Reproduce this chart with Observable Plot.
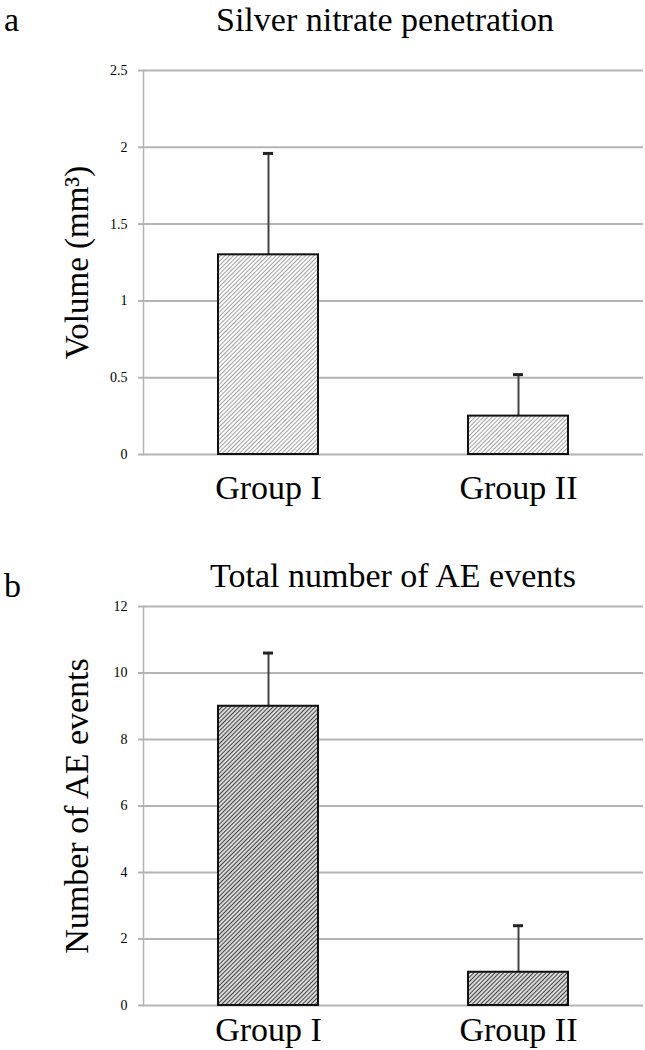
<!DOCTYPE html>
<html><head><meta charset="utf-8">
<script src="https://cdn.jsdelivr.net/npm/d3@7"></script>
<script src="https://cdn.jsdelivr.net/npm/@observablehq/plot@0.6"></script>
<style>
body{margin:0;background:#fff;font-family:"Liberation Serif","Times New Roman",serif;}
#wrap{position:relative;width:645px;height:1050px;overflow:hidden;background:#fff;}
.lbl{position:absolute;font-size:34px;line-height:40px;color:#000;white-space:nowrap;z-index:2;}
.ctr{text-align:center;width:600px;}
.box{position:absolute;left:0;}
</style></head><body><div id="wrap">
<div class="lbl" style="left:4px;top:0px;">a</div>
<div class="lbl ctr" style="left:85px;top:0px;">Silver nitrate penetration</div>
<div class="lbl" style="left:4px;top:566px;">b</div>
<div class="lbl ctr" style="left:93px;top:556px;">Total number of AE events</div>
<div class="box" id="p1" style="top:50px;"></div>
<div class="box" id="p2" style="top:596px;"></div>
</div>
<script>
const groups = ["Group I", "Group II"];
const volumeMean = [1.30, 0.25];
const volumeErr = [0.66, 0.27];
const volumeTicks = [0, 0.5, 1, 1.5, 2, 2.5];
const aeMean = [9, 1];
const aeErr = [1.6, 1.4];
const aeTicks = [0, 2, 4, 6, 8, 10, 12];

const SERIF = '"Liberation Serif", "Times New Roman", serif';

function panel(o) {
  const data = groups.map((g, i) => ({g, v: o.means[i], e: o.means[i] + o.errs[i]}));
  const defs = () => {
    const d = document.createElementNS("http://www.w3.org/2000/svg", "defs");
    d.innerHTML = `<pattern id="${o.patId}" patternUnits="userSpaceOnUse" width="${o.patSize}" height="${o.patSize}" patternTransform="rotate(45)"><rect width="${o.patSize}" height="${o.patSize}" fill="#fff"/><line x1="${o.patSize/2}" y1="0" x2="${o.patSize/2}" y2="${o.patSize}" stroke="${o.patStroke}" stroke-width="${o.patWidth}"/></pattern>`;
    return d;
  };
  return Plot.plot({
    width: 645, height: o.height,
    marginTop: o.mTop, marginBottom: o.mBottom, marginLeft: 143, marginRight: 2,
    style: {fontFamily: SERIF, background: "transparent", color: "#000", overflow: "visible"},
    x: {domain: groups, paddingInner: 0.6, paddingOuter: 0.3, label: null},
    y: {domain: o.domain, label: null},
    marks: [
      defs,
      Plot.gridY(o.ticks, {stroke: "#b4b4b4", strokeOpacity: 1, strokeWidth: 2}),
      Plot.axisY(o.ticks, {tickSize: 5, tickPadding: 11, stroke: "#b4b4b4", strokeWidth: 2, fontSize: 14, fontFamily: SERIF, fill: "#000", label: null, tickFormat: d => String(d)}),
      Plot.frame({anchor: "left", stroke: "#b4b4b4", strokeWidth: 1.5}),
      Plot.axisX({tickSize: 0, tickPadding: o.xPad, fontSize: 34, fontFamily: SERIF, fill: "#000", label: null}),
      Plot.ruleX(data, {x: "g", y1: "v", y2: "e", stroke: "#444", strokeWidth: 2}),
      Plot.tickY(data, {x: "g", y: "e", stroke: "#222", strokeWidth: 3, insetLeft: 45, insetRight: 45}),
      Plot.barY(data, {x: "g", y: "v", fill: `url(#${o.patId})`, stroke: "#111", strokeWidth: 2}),
      Plot.text([o.yLabel], {text: d => d, frameAnchor: "left", textAnchor: "middle", dx: -66, dy: o.labelDy, rotate: -90, fontSize: o.labelSize, fontFamily: SERIF, fill: "#000"})
    ]
  });
}

document.getElementById("p1").append(panel({
  height: 470, mTop: 20, mBottom: 66, xPad: 20,
  domain: [0, 2.5], ticks: volumeTicks, means: volumeMean, errs: volumeErr,
  yLabel: "Volume (mm³)", labelDy: 0, labelSize: 33,
  patId: "hatchA", patSize: 3, patStroke: "#a0a0a0", patWidth: 1
}));
document.getElementById("p2").append(panel({
  height: 454, mTop: 10, mBottom: 45, xPad: 11,
  domain: [0, 12], ticks: aeTicks, means: aeMean, errs: aeErr,
  yLabel: "Number of AE events", labelDy: 0, labelSize: 34,
  patId: "hatchB", patSize: 3, patStroke: "#444", patWidth: 1.4
}));
</script></body></html>
